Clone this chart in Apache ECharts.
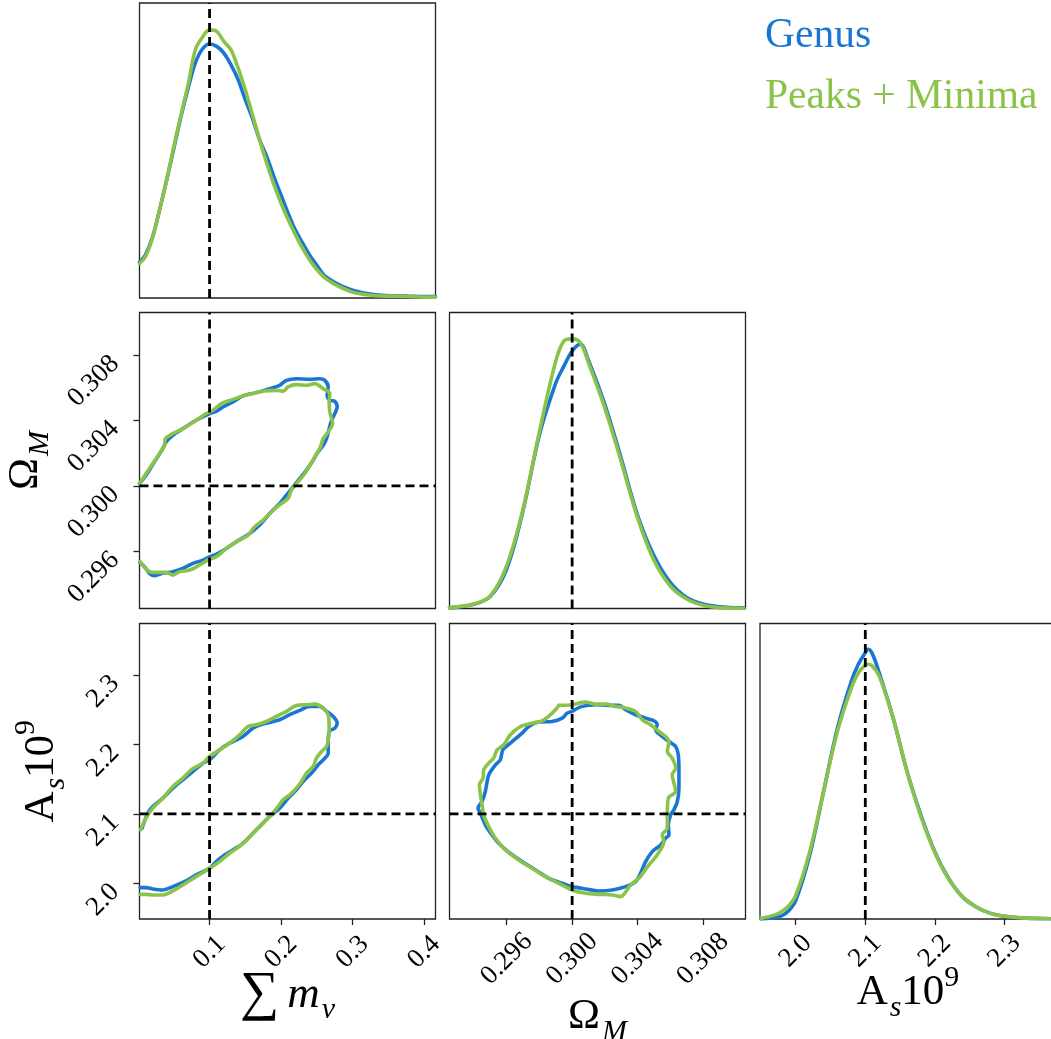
<!DOCTYPE html>
<html><head><meta charset="utf-8">
<script src="https://cdn.jsdelivr.net/npm/echarts@6/dist/echarts.min.js"></script>
<style>html,body{margin:0;padding:0;background:#fff}#c{width:1051px;height:1039px}</style>
</head><body><div id="c"></div>
<script>
// ---------- data ----------
const seriesNames = ['Genus', 'Peaks + Minima'];
const seriesColors = ['#1976D2', '#8BC34A'];

const sumRange = [0.002, 0.416];
const omRange = [0.2925, 0.3106];
const asRange = [1.9487, 2.374];

const truthSum = 0.1, truthOm = 0.300, truthAs = 2.1;

const sumTicks = [0.1, 0.2, 0.3, 0.4];
const omTicks = [0.296, 0.300, 0.304, 0.308];
const asTicks = [2.0, 2.1, 2.2, 2.3];

// 1D marginals (density, % of panel height)
const sumX = [0.002,0.01,0.02,0.03,0.04,0.05,0.06,0.07,0.08,0.09,0.10,0.11,0.12,0.13,0.14,0.15,0.16,0.17,0.18,0.19,0.20,0.21,0.22,0.23,0.24,0.25,0.26,0.27,0.28,0.30,0.32,0.34,0.36,0.38,0.40,0.416];
const sumGenus = [12.2,14.5,20.5,29.8,40.0,50.7,61.5,71.1,79.6,84.4,86.1,85.3,83.0,79.0,74.0,67.2,60.9,53.6,47.9,41.1,34.9,28.7,23.0,18.7,14.5,11.1,7.7,6.0,4.6,2.6,1.5,0.9,0.7,0.6,0.5,0.5];
const sumPeaks = [11.7,13.9,20.2,29.8,40.0,51.3,62.1,72.3,84.1,88.4,90.9,90.4,87.0,84.1,77.9,70.5,62.1,53.6,45.7,38.4,32.1,26.5,21.5,16.9,12.9,9.6,7.1,5.4,4.0,2.0,1.1,0.7,0.6,0.5,0.3,0.3];

const omX = [0.2925,0.294,0.295,0.296,0.297,0.298,0.299,0.2995,0.300,0.3005,0.301,0.302,0.303,0.304,0.305,0.306,0.307,0.308,0.309,0.3105];
const omGenus = [0.2,1.4,4.1,13.4,33.2,58.7,76.2,81.9,87.0,89.3,83.8,68.9,50.7,31.5,17.9,8.8,3.7,1.5,0.6,0.2];
const omPeaks = [0.3,1.5,4.3,14.5,33.7,59.8,83.6,90.4,91.1,89.8,83.0,67.7,49.6,30.6,16.3,7.6,3.2,1.1,0.3,0.1];

const asX = [1.95,1.97,1.98,1.99,2.00,2.02,2.04,2.06,2.08,2.09,2.10,2.104,2.11,2.12,2.14,2.16,2.18,2.20,2.22,2.24,2.26,2.28,2.30,2.33,2.37];
const asGenus = [0,0.5,1.1,2.8,6.2,21.5,43.1,64.6,80.5,86.2,90.1,91.3,89.8,83.3,68.0,49.9,35.1,22.7,13.6,7.4,4.0,1.9,0.9,0.3,0.1];
const asPeaks = [0.2,1.4,2.5,4.5,7.9,22.7,43.1,63.5,78.2,83.3,85.9,86.2,85.6,82.2,68.0,49.9,34.6,22.4,13.4,7.4,4.0,1.9,0.9,0.3,0.1];

// 2D contours
const sumOmGenus = [[0.002,0.30014],[0.0112,0.30065],[0.0229,0.30147],[0.0346,0.30228],[0.0393,0.30269],[0.0486,0.30309],[0.0626,0.30350],[0.0813,0.30401],[0.1000,0.30442],[0.1093,0.30456],[0.1187,0.30482],[0.1327,0.30513],[0.1467,0.30550],[0.1654,0.30570],[0.1841,0.30594],[0.1981,0.30615],[0.2075,0.30645],[0.2215,0.30655],[0.2402,0.30651],[0.2542,0.30655],[0.2612,0.30645],[0.2659,0.30605],[0.2645,0.30554],[0.2682,0.30523],[0.2752,0.30517],[0.2785,0.30482],[0.2752,0.30442],[0.2706,0.30401],[0.2673,0.30350],[0.2636,0.30289],[0.2589,0.30248],[0.2519,0.30208],[0.2449,0.30157],[0.2355,0.30096],[0.2262,0.30045],[0.2168,0.29994],[0.2075,0.29943],[0.1981,0.29892],[0.1841,0.29831],[0.1701,0.29760],[0.1561,0.29709],[0.1374,0.29658],[0.1234,0.29617],[0.1093,0.29581],[0.1000,0.29566],[0.0907,0.29546],[0.0766,0.29526],[0.0626,0.29495],[0.0486,0.29475],[0.0346,0.29465],[0.0229,0.29450],[0.0159,0.29465],[0.0089,0.29505],[0.0028,0.29530]];
const sumOmPeaks = [[0.002,0.30014],[0.0112,0.30075],[0.0206,0.30136],[0.0299,0.30197],[0.0369,0.30248],[0.0383,0.30289],[0.0486,0.30320],[0.0626,0.30350],[0.0813,0.30401],[0.0953,0.30442],[0.1047,0.30462],[0.1164,0.30503],[0.1327,0.30529],[0.1467,0.30550],[0.1654,0.30570],[0.1794,0.30582],[0.1935,0.30584],[0.2028,0.30578],[0.2098,0.30605],[0.2215,0.30619],[0.2355,0.30615],[0.2472,0.30625],[0.2589,0.30594],[0.2682,0.30564],[0.2673,0.30513],[0.2682,0.30452],[0.2720,0.30381],[0.2659,0.30330],[0.2589,0.30289],[0.2542,0.30228],[0.2472,0.30177],[0.2402,0.30126],[0.2332,0.30075],[0.2238,0.30024],[0.2145,0.29974],[0.2098,0.29923],[0.2005,0.29892],[0.1888,0.29851],[0.1748,0.29790],[0.1631,0.29750],[0.1537,0.29699],[0.1374,0.29658],[0.1234,0.29617],[0.1093,0.29566],[0.1000,0.29552],[0.0860,0.29516],[0.0720,0.29485],[0.0579,0.29475],[0.0486,0.29454],[0.0393,0.29471],[0.0252,0.29471],[0.0159,0.29475],[0.0089,0.29505],[0.0028,0.29536]];

const sumAsGenus = [[0.0056,2.0793],[0.0136,2.1010],[0.0206,2.1106],[0.0346,2.1226],[0.0486,2.1370],[0.0626,2.1490],[0.0766,2.1610],[0.0907,2.1730],[0.1000,2.1778],[0.1140,2.1922],[0.1280,2.2018],[0.1467,2.2114],[0.1607,2.2234],[0.1748,2.2292],[0.1981,2.2354],[0.2121,2.2427],[0.2262,2.2489],[0.2402,2.2547],[0.2542,2.2547],[0.2636,2.2475],[0.2729,2.2402],[0.2785,2.2306],[0.2752,2.2234],[0.2682,2.2196],[0.2659,2.2090],[0.2659,2.1874],[0.2589,2.1778],[0.2519,2.1706],[0.2425,2.1586],[0.2308,2.1466],[0.2215,2.1346],[0.2098,2.1226],[0.1981,2.1082],[0.1841,2.0962],[0.1724,2.0842],[0.1607,2.0721],[0.1467,2.0577],[0.1327,2.0481],[0.1210,2.0409],[0.1093,2.0313],[0.1000,2.0217],[0.0813,2.0121],[0.0650,2.0025],[0.0486,1.9953],[0.0346,1.9905],[0.0206,1.9919],[0.0112,1.9939],[0.0028,1.9939]];
const sumAsPeaks = [[0.0033,2.0769],[0.0112,2.0938],[0.0206,2.1082],[0.0346,2.1226],[0.0486,2.1394],[0.0626,2.1514],[0.0743,2.1634],[0.0907,2.1730],[0.1000,2.1826],[0.1140,2.1922],[0.1280,2.2018],[0.1421,2.2138],[0.1537,2.2258],[0.1654,2.2282],[0.1794,2.2330],[0.1935,2.2402],[0.2075,2.2475],[0.2215,2.2561],[0.2355,2.2571],[0.2472,2.2580],[0.2589,2.2523],[0.2659,2.2427],[0.2673,2.2234],[0.2664,2.2090],[0.2636,2.1970],[0.2565,2.1898],[0.2495,2.1802],[0.2449,2.1682],[0.2355,2.1586],[0.2285,2.1466],[0.2215,2.1370],[0.2121,2.1274],[0.2028,2.1202],[0.1958,2.1106],[0.1864,2.0986],[0.1724,2.0842],[0.1584,2.0697],[0.1444,2.0553],[0.1280,2.0433],[0.1140,2.0313],[0.1000,2.0217],[0.0813,2.0097],[0.0626,1.9977],[0.0486,1.9891],[0.0346,1.9833],[0.0206,1.9833],[0.0112,1.9842],[0.0028,1.9842]];

const omAsGenus = [[0.30000,2.2475],[0.30061,2.2547],[0.30143,2.2571],[0.30224,2.2561],[0.30286,2.2561],[0.30327,2.2499],[0.30388,2.2427],[0.30449,2.2378],[0.30500,2.2340],[0.30520,2.2282],[0.30510,2.2210],[0.30551,2.2114],[0.30592,2.2042],[0.30633,2.1970],[0.30649,2.1850],[0.30653,2.1610],[0.30653,2.1370],[0.30643,2.1178],[0.30622,2.1058],[0.30602,2.0986],[0.30588,2.0842],[0.30592,2.0697],[0.30571,2.0649],[0.30541,2.0553],[0.30490,2.0457],[0.30449,2.0313],[0.30418,2.0145],[0.30388,2.0025],[0.30327,1.9953],[0.30245,1.9905],[0.30163,1.9891],[0.30082,1.9919],[0.30000,1.9953],[0.29939,2.0001],[0.29857,2.0073],[0.29776,2.0193],[0.29694,2.0313],[0.29612,2.0448],[0.29551,2.0577],[0.29510,2.0697],[0.29469,2.0842],[0.29439,2.1010],[0.29424,2.1082],[0.29449,2.1178],[0.29469,2.1322],[0.29490,2.1562],[0.29531,2.1706],[0.29561,2.1778],[0.29576,2.1922],[0.29622,2.2018],[0.29694,2.2162],[0.29735,2.2258],[0.29796,2.2321],[0.29878,2.2330],[0.29939,2.2378],[0.29969,2.2450],[0.30000,2.2475]];
const omAsPeaks = [[0.29918,2.2561],[0.30000,2.2571],[0.30082,2.2609],[0.30143,2.2580],[0.30204,2.2580],[0.30265,2.2547],[0.30327,2.2523],[0.30388,2.2475],[0.30429,2.2354],[0.30480,2.2282],[0.30531,2.2186],[0.30571,2.2114],[0.30592,2.2042],[0.30582,2.1898],[0.30612,2.1802],[0.30633,2.1658],[0.30612,2.1562],[0.30633,2.1322],[0.30588,2.1226],[0.30582,2.0986],[0.30582,2.0793],[0.30551,2.0697],[0.30561,2.0601],[0.30520,2.0409],[0.30469,2.0265],[0.30408,2.0073],[0.30357,1.9977],[0.30296,1.9809],[0.30245,1.9833],[0.30163,1.9842],[0.30082,1.9857],[0.30000,1.9905],[0.29918,2.0001],[0.29837,2.0097],[0.29755,2.0217],[0.29673,2.0337],[0.29592,2.0481],[0.29531,2.0649],[0.29490,2.0817],[0.29459,2.0986],[0.29449,2.1130],[0.29439,2.1274],[0.29433,2.1418],[0.29455,2.1514],[0.29459,2.1634],[0.29490,2.1730],[0.29520,2.1802],[0.29541,2.1922],[0.29582,2.1994],[0.29622,2.2138],[0.29684,2.2258],[0.29755,2.2306],[0.29816,2.2340],[0.29867,2.2427],[0.29898,2.2499],[0.29918,2.2561]];

// ---------- chart ----------
const FONT = 'Liberation Serif';
const densRange = [0, 100];

const gridBox = [
  {left: 139.5, top: 3, width: 296, height: 295},
  {left: 139.5, top: 312.5, width: 296, height: 296},
  {left: 449.5, top: 312.5, width: 296, height: 296},
  {left: 139.5, top: 623.5, width: 296, height: 295.5},
  {left: 449.5, top: 623.5, width: 296, height: 295.5},
  {left: 760, top: 623.5, width: 296, height: 295.5}
];
const grid = gridBox.map(g => Object.assign({
  show: true, borderColor: '#222', borderWidth: 1.3, backgroundColor: 'transparent',
  containLabel: false, outerBoundsMode: 'none'
}, g));

const nameRich = {
  s: {fontFamily: FONT, fontSize: 55, lineHeight: 60, color: '#000', padding: [0, 8, 0, 0]},
  r: {fontFamily: FONT, fontSize: 43, lineHeight: 60, color: '#000'},
  i: {fontFamily: FONT, fontSize: 45, fontStyle: 'italic', lineHeight: 60, color: '#000'},
  sub: {fontFamily: FONT, fontSize: 30, fontStyle: 'italic', verticalAlign: 'bottom', lineHeight: 40, color: '#000', padding: [0, 0, 0, 2]},
  sup: {fontFamily: FONT, fontSize: 30, verticalAlign: 'top', lineHeight: 34, color: '#000'}
};
const tickRichX = {t: {fontFamily: FONT, fontSize: 27, color: '#000', lineHeight: 27}};
const tickRichY = {t: {fontFamily: FONT, fontSize: 27, color: '#000', lineHeight: 13}};

function axis(gi, range, opts) {
  opts = opts || {};
  const ax = {
    type: 'value', gridIndex: gi, min: range[0], max: range[1], scale: true,
    axisLine: {show: false}, splitLine: {show: false},
    axisTick: {show: !!opts.ticks, customValues: opts.ticks, inside: false, length: 6, lineStyle: {color: '#222', width: 1.3}},
    axisLabel: {show: !!opts.ticks, customValues: opts.ticks,
      formatter: v => '{t|' + v.toFixed(opts.dec || 1) + '}', rotate: 45, rich: opts.yLab ? tickRichY : tickRichX,
      fontFamily: FONT, fontSize: 27, color: '#000', margin: opts.margin || 8, hideOverlap: false},
    nameMoveOverlap: false
  };
  if (opts.center) { ax.axisLabel.align = 'center'; ax.axisLabel.verticalAlign = 'middle'; }
  if (opts.yLab) { ax.axisLabel.align = 'right'; ax.axisLabel.verticalAlign = 'top'; }
  if (opts.name) {
    ax.name = opts.name; ax.nameLocation = 'middle'; ax.nameGap = opts.nameGap;
    ax.nameTextStyle = {rich: nameRich, fontFamily: FONT, fontSize: 43, color: '#000'};
    if (opts.rot) ax.nameRotate = 90;
  }
  return ax;
}

const xAxis = [
  axis(0, sumRange),
  axis(1, sumRange),
  axis(2, omRange),
  axis(3, sumRange, {ticks: sumTicks, dec: 1, center: true, margin: 33, name: '{s|∑}{i|m}{sub|ν}', nameGap: 46}),
  axis(4, omRange, {ticks: omTicks, dec: 3, center: true, margin: 40, name: '{r|Ω}{sub|M}', nameGap: 68}),
  axis(5, asRange, {ticks: asTicks, dec: 1, center: true, margin: 32, name: '{r|A}{sub|s}{r|10}{sup|9}', nameGap: 44})
];
const yAxis = [
  axis(0, densRange),
  axis(1, omRange, {ticks: omTicks, dec: 3, margin: 29, yLab: true, name: '{r|Ω}{sub|M}', nameGap: 84, rot: true}),
  axis(2, densRange),
  axis(3, asRange, {ticks: asTicks, dec: 1, margin: 29, yLab: true, name: '{r|A}{sub|s}{r|10}{sup|9}', nameGap: 68, rot: true}),
  axis(4, asRange),
  axis(5, densRange)
];

const series = [];
function curve(gi, k, data, smooth) {
  series.push({
    type: 'line', name: seriesNames[k], xAxisIndex: gi, yAxisIndex: gi, data: data,
    showSymbol: false, symbol: 'none', smooth: smooth, z: 2 + k, silent: true,
    lineStyle: {color: seriesColors[k], width: 3.6, cap: 'round', join: 'round'},
    itemStyle: {color: seriesColors[k]}
  });
}
const zip = (xs, ys) => xs.map((x, i) => [x, ys[i]]);

curve(0, 0, zip(sumX, sumGenus), 0.35);
curve(0, 1, zip(sumX, sumPeaks), 0.35);
curve(2, 0, zip(omX, omGenus), 0.35);
curve(2, 1, zip(omX, omPeaks), 0.35);
curve(5, 0, zip(asX, asGenus), 0.35);
curve(5, 1, zip(asX, asPeaks), 0.35);
curve(1, 0, sumOmGenus, 0.3);
curve(1, 1, sumOmPeaks, 0.3);
curve(3, 0, sumAsGenus, 0.3);
curve(3, 1, sumAsPeaks, 0.3);
curve(4, 0, omAsGenus, 0.3);
curve(4, 1, omAsPeaks, 0.3);

function truthLine(gi, pts) {
  series.push({
    type: 'line', name: 'truth', xAxisIndex: gi, yAxisIndex: gi, data: pts,
    showSymbol: false, symbol: 'none', z: 10, silent: true,
    lineStyle: {color: '#000', width: 2.8, type: [9, 5]}
  });
}
truthLine(0, [[truthSum, densRange[0]], [truthSum, densRange[1]]]);
truthLine(1, [[truthSum, omRange[0]], [truthSum, omRange[1]]]);
truthLine(1, [[sumRange[0], truthOm], [sumRange[1], truthOm]]);
truthLine(2, [[truthOm, densRange[0]], [truthOm, densRange[1]]]);
truthLine(3, [[truthSum, asRange[0]], [truthSum, asRange[1]]]);
truthLine(3, [[sumRange[0], truthAs], [sumRange[1], truthAs]]);
truthLine(4, [[truthOm, asRange[0]], [truthOm, asRange[1]]]);
truthLine(4, [[omRange[0], truthAs], [omRange[1], truthAs]]);
truthLine(5, [[truthAs, densRange[0]], [truthAs, densRange[1]]]);

const legendRich = {};
seriesColors.forEach((c, k) => { legendRich['c' + k] = {fontFamily: FONT, fontSize: 41.5, lineHeight: 41, color: c}; });

const chart = echarts.init(document.getElementById('c'), null, {renderer: 'canvas'});
chart.setOption({
  animation: false,
  backgroundColor: '#fff',
  grid: grid, xAxis: xAxis, yAxis: yAxis, series: series,
  legend: {
    data: seriesNames,
    formatter: n => '{c' + seriesNames.indexOf(n) + '|' + n + '}',
    orient: 'vertical', left: 755, top: 10, itemWidth: 0, itemHeight: 0, itemGap: 19,
    selectedMode: false,
    itemStyle: {opacity: 0}, lineStyle: {width: 0, opacity: 0},
    textStyle: {fontFamily: FONT, fontSize: 41.5, rich: legendRich}
  }
});
</script></body></html>
